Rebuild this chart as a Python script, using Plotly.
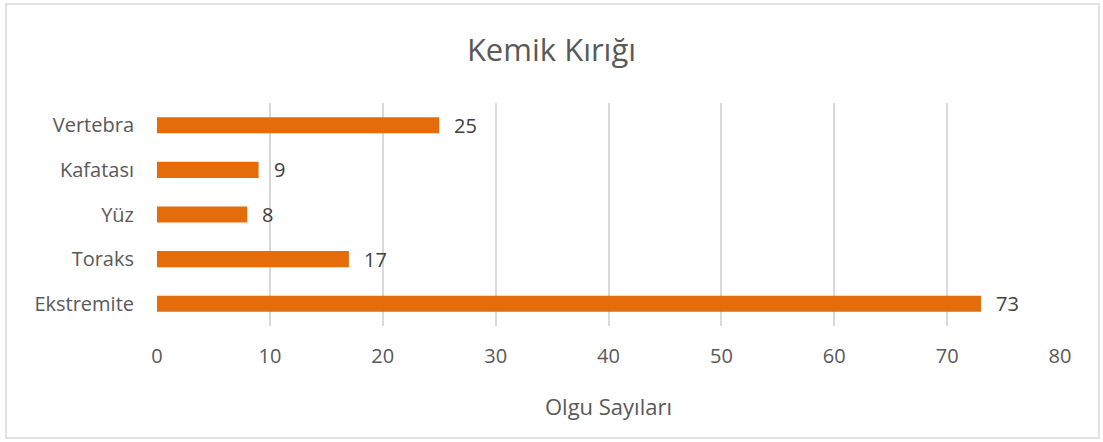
import plotly.graph_objects as go

categories = ["Vertebra", "Kafatası", "Yüz", "Toraks", "Ekstremite"]
values = [25, 9, 8, 17, 73]
x_ticks = [0, 10, 20, 30, 40, 50, 60, 70, 80]

BAR = "#E46C0A"
GRID = "#D9D9D9"
TXT = "#595959"
FONT = "Open Sans"

fig = go.Figure()
fig.add_trace(go.Bar(
    x=values, y=categories, orientation="h",
    marker=dict(color=BAR, line=dict(width=0)),
    width=0.36, hoverinfo="skip",
))

for c, v in zip(categories, values):
    fig.add_annotation(x=v, y=c, text=str(v), showarrow=False,
                       xanchor="left", xshift=13,
                       font=dict(family=FONT, size=20, color="#404040"))

L, R, T, B = 157, 43, 103, 116
pw = 1103 - L - R
ph = 442 - T - B
def px(xp):
    return (xp - L) / pw
def py(yp):
    return (442 - B - yp) / ph

fig.add_shape(type="rect", xref="paper", yref="paper",
              x0=px(6), x1=px(1099), y0=py(438), y1=py(4),
              line=dict(color="#D9D9D9", width=1.5), fillcolor="rgba(0,0,0,0)",
              layer="below")

fig.update_layout(
    width=1103, height=442,
    margin=dict(l=L, r=R, t=T, b=B),
    paper_bgcolor="white", plot_bgcolor="white",
    showlegend=False,
    title=dict(text="Kemik Kırığı", x=0.5, xref="container", xanchor="center",
               y=1 - 50 / 442, yref="container", yanchor="middle",
               font=dict(family=FONT, size=31, color=TXT)),
    font=dict(family=FONT, color=TXT),
    xaxis=dict(range=[0, 80], tickvals=x_ticks, showgrid=True,
               gridcolor=GRID, gridwidth=1.5, zeroline=False, showline=False,
               ticks="", ticklabelstandoff=16,
               tickfont=dict(family=FONT, size=20, color=TXT),
               title=dict(text="Olgu Sayıları", standoff=31,
                          font=dict(family=FONT, size=22, color=TXT))),
    yaxis=dict(autorange="reversed", showgrid=False, zeroline=False,
               showline=False, ticks="", ticklabelstandoff=22,
               tickfont=dict(family=FONT, size=20, color=TXT)),
)

fig.write_html("out.html", config={"displayModeBar": False},
               post_script="document.body.style.margin='0';")
